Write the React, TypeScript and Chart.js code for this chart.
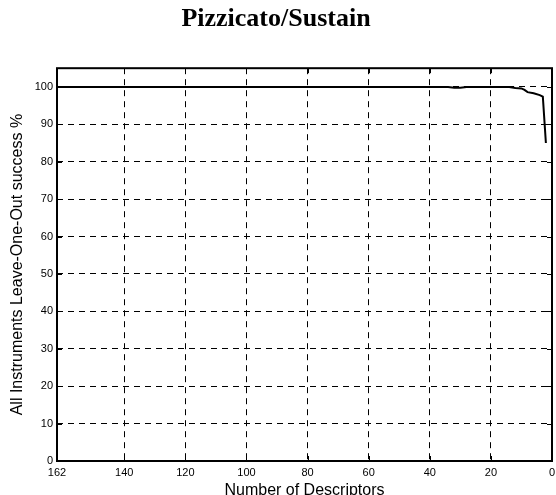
import React, { useEffect, useRef } from "react";
import { Chart, registerables } from "chart.js";

Chart.register(...registerables);

const titleText = "Pizzicato/Sustain";
const xTitle = "Number of Descriptors";
const yTitle = "All Instruments Leave-One-Out success %";

const descriptors = [162, 140, 120, 100, 80, 60, 40, 34, 32, 30, 28, 20, 14, 12, 10, 9, 8, 6, 4, 3, 2];
const success = [100, 100, 100, 100, 100, 100, 100, 100, 99.8, 99.8, 100, 100, 100, 99.7, 99.6, 99.2, 98.6, 98.3, 97.8, 97.4, 85];

const xTicks = [162, 140, 120, 100, 80, 60, 40, 20, 0];
const yTicks = [0, 10, 20, 30, 40, 50, 60, 70, 80, 90, 100];

const boxPlugin = {
  id: "boxTicks",
  afterDatasetsDraw(chart: any) {
    const { ctx, chartArea } = chart;
    const { left, right, top, bottom } = chartArea;
    const xs = chart.scales.x;
    const ys = chart.scales.y;
    ctx.save();
    ctx.strokeStyle = "#000";
    ctx.lineWidth = 1;
    ctx.setLineDash([]);
    const tl = 5;
    ctx.beginPath();
    xTicks.forEach((v) => {
      const px = Math.round(xs.getPixelForValue(v)) + 0.5;
      ctx.moveTo(px, bottom);
      ctx.lineTo(px, bottom - tl);
      ctx.moveTo(px, top);
      ctx.lineTo(px, top + tl);
    });
    yTicks.forEach((v) => {
      const py = Math.round(ys.getPixelForValue(v)) + 0.5;
      ctx.moveTo(left, py);
      ctx.lineTo(left + tl, py);
      ctx.moveTo(right, py);
      ctx.lineTo(right - tl, py);
    });
    ctx.stroke();
    ctx.lineWidth = 2;
    ctx.strokeRect(left, top, right - left, bottom - top);
    ctx.restore();
  },
};

export default function App() {
  const ref = useRef<HTMLCanvasElement | null>(null);
  useEffect(() => {
    if (!ref.current) return;
    const chart = new Chart(ref.current, {
      type: "line",
      data: {
        datasets: [
          {
            data: descriptors.map((d, i) => ({ x: d, y: success[i] })),
            borderColor: "#000",
            borderWidth: 2,
            pointRadius: 0,
            fill: false,
            tension: 0,
          },
        ],
      },
      options: {
        animation: false,
        responsive: false,
        maintainAspectRatio: false,
        layout: { padding: { right: 4, left: 0, bottom: 0, top: 0 } },
        plugins: {
          legend: { display: false },
          tooltip: { enabled: false },
          title: {
            display: true,
            text: titleText,
            color: "#000",
            font: { family: "Liberation Serif", size: 26, weight: "bold" },
            padding: { top: 4, bottom: 33 },
          },
        },
        scales: {
          x: {
            type: "linear",
            reverse: true,
            min: 0,
            max: 162,
            afterBuildTicks: (s: any) => {
              s.ticks = xTicks.map((v) => ({ value: v }));
            },
            afterFit: (s: any) => {
              s.height = 34;
              s.paddingRight = 0;
              s.paddingLeft = 0;
            },
            grid: {
              color: "#000",
              lineWidth: 1,
              drawTicks: false,
              tickLength: 0,
            },
            border: { display: false, dash: [6, 5] },
            ticks: {
              color: "#000",
              font: { family: "Liberation Sans", size: 11 },
              padding: 5,
              maxRotation: 0,
              autoSkip: false,
              callback: (v: any) => String(v),
            },
            title: {
              display: true,
              text: xTitle,
              color: "#000",
              font: { family: "Liberation Sans", size: 16 },
              padding: { top: 0, bottom: -5 },
            },
          },
          y: {
            type: "linear",
            min: 0,
            max: 105,
            afterBuildTicks: (s: any) => {
              s.ticks = yTicks.map((v) => ({ value: v }));
            },
            afterFit: (s: any) => {
              s.width = 57;
            },
            grid: {
              color: "#000",
              lineWidth: 1,
              drawTicks: false,
              tickLength: 0,
            },
            border: { display: false, dash: [6, 5] },
            ticks: {
              color: "#000",
              font: { family: "Liberation Sans", size: 11 },
              padding: 4,
              autoSkip: false,
              callback: (v: any) => String(v),
            },
            title: {
              display: true,
              text: yTitle,
              color: "#000",
              font: { family: "Liberation Sans", size: 16 },
              padding: { top: 8, bottom: 0 },
            },
          },
        },
      } as any,
      plugins: [boxPlugin],
    });
    return () => chart.destroy();
  }, []);
  return (
    <div style={{ position: "fixed", left: 0, top: 0, width: 556, height: 495, overflow: "hidden", background: "#fff" }}>
      <canvas ref={ref} width={556} height={495} style={{ display: "block" }} />
    </div>
  );
}
